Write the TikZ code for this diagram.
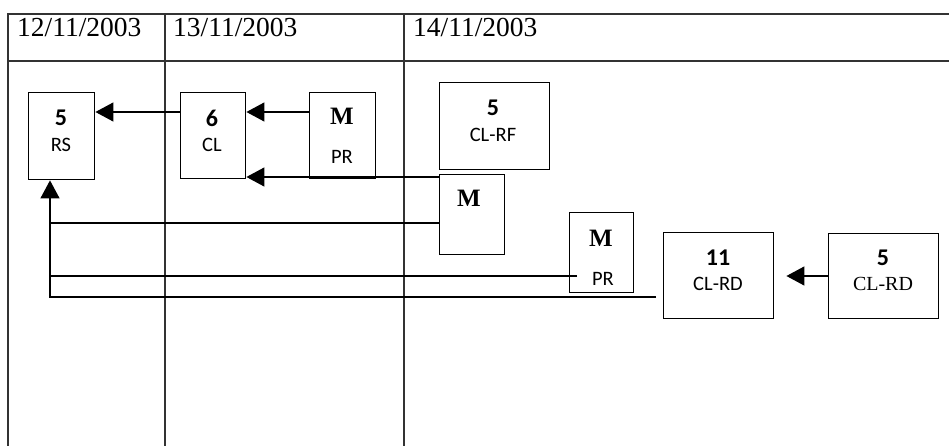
\documentclass[tikz,border=0pt]{standalone}
\usepackage{fontspec}
\setmainfont{Liberation Serif}
\newfontfamily\carl{Carlito}
\usetikzlibrary{arrows.meta}
\begin{document}
\begin{tikzpicture}[x=1pt,y=-1pt,
  grid/.style={line width=1.1pt,black!80},
  box/.style={draw,line width=1.4pt,inner sep=0pt,anchor=north west},
  num/.style={font=\carl\bfseries\fontsize{24}{24}\selectfont,inner sep=0pt},
  lab/.style={font=\carl\fontsize{20.5}{20.5}\selectfont,inner sep=0pt},
  serlab/.style={font=\fontsize{20}{20}\selectfont,inner sep=0pt},
  mm/.style={font=\bfseries\fontsize{25}{25}\selectfont,inner sep=0pt},
  datetxt/.style={font=\fontsize{27.5}{27.5}\selectfont,inner sep=0pt,anchor=base west},
  conn/.style={line width=1.3pt},
  arr/.style={line width=1.3pt,-{Triangle[length=18pt,width=19pt]}}]
\useasboundingbox (0,0) rectangle (949,446);
% table
\draw[grid] (8,446) -- (8,14) -- (949,14);
\draw[grid] (8,61) -- (949,61);
\draw[grid] (165,14) -- (165,446);
\draw[grid] (404,14) -- (404,446);
\node[datetxt] (d1) at (17,37) {12/11/2003};
\node[datetxt] (d2) at (173,37) {13/11/2003};
\node[datetxt] (d3) at (413,37) {14/11/2003};
% boxes
\node[box,minimum width=66pt,minimum height=87pt] (rs) at (28,92) {};
\node[box,minimum width=65pt,minimum height=86pt] (cl) at (180,92) {};
\node[box,minimum width=66pt,minimum height=86pt] (pr) at (309,92) {};
\node[box,minimum width=110pt,minimum height=87pt] (rf) at (439,82) {};
\node[box,minimum width=65pt,minimum height=80pt] (mb) at (439,174) {};
\node[box,minimum width=64pt,minimum height=80pt] (pr2) at (569,212) {};
\node[box,minimum width=110pt,minimum height=86pt] (rd1) at (663,232) {};
\node[box,minimum width=110pt,minimum height=85pt] (rd2) at (828,233) {};
% texts
\node[num] (t1) at (61,118) {5};
\node[lab] (t2) at (61,145) {RS};
\node[num] (t3) at (212,118) {6};
\node[lab] (t4) at (212,145) {CL};
\node[mm] (t5) at (342,116) {M};
\node[lab] (t6) at (342,157) {PR};
\node[num] (t7) at (493,108) {5};
\node[lab] (t8) at (493,135) {CL-RF};
\node[mm] (t9) at (469,198) {M};
\node[mm] (t10) at (601,238) {M};
\node[lab] (t11) at (603,279) {PR};
\node[num] (t12) at (718,258) {11};
\node[lab] (t13) at (718,284) {CL-RD};
\node[num] (t14) at (883,258) {5};
\node[serlab] (t15) at (883,284) {CL-RD};
% helper coordinates
\coordinate (ya) at (0,112);
\coordinate (yb) at (0,177);
\coordinate (yc) at (0,223);
\coordinate (yd) at (0,276);
\coordinate (ye) at (0,297);
\coordinate (xv) at (50,0);
\coordinate (prin) at (577,276);
% connectors
\draw[arr] (cl.west |- ya) -- (rs.east |- ya);
\draw[arr] (pr.west |- ya) -- (cl.east |- ya);
\draw[arr] (mb.west |- yb) -- (cl.east |- yb);
\draw[conn] (mb.west |- yc) -- (xv |- yc);
\draw[conn] (prin) -- (xv |- yd);
\draw[arr] ([xshift=-7pt]rd1.west |- ye) -- (xv |- ye) -- (xv |- rs.south);
\draw[arr,shorten >=12pt] (rd2.west |- yd) -- (rd1.east |- yd);
\end{tikzpicture}
\end{document}
